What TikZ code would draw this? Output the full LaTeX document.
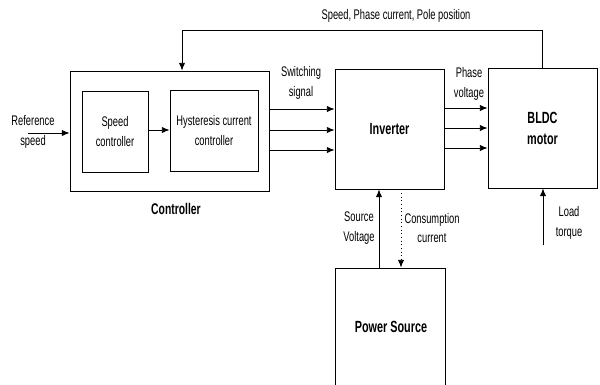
\documentclass[tikz,border=0pt]{standalone}
\usepackage{fontspec}
\setmainfont{Liberation Sans}[FakeStretch=0.67]
\usetikzlibrary{arrows.meta,positioning,calc}

\begin{document}
\begin{tikzpicture}[x=0.025cm, y=-0.025cm,
  blk/.style={rectangle, draw, line width=0.6pt, minimum width=#1, inner sep=0pt, align=center},
  lbl/.style={align=center, font=\fontsize{9.9}{14}\selectfont},
  arr/.style={-{Latex[length=5.5pt,width=4.5pt]}, line width=0.6pt}
]
  \useasboundingbox (0,0) rectangle (600,384);
  \clip (0,0) rectangle (600,384);

  % Controller
  \node[blk=4.975cm, minimum height=3cm] (ctrl) at (169.5,131) {};
  \node[blk=1.65cm, minimum height=2.025cm, lbl] (spd) at (115,131.5) {Speed\\controller};
  \node[blk=2.2cm, minimum height=2.025cm, lbl] (hys) at (214,130.5) {Hysteresis current\\controller};
  \node[font=\fontsize{11}{12}\selectfont\bfseries] (ctrltxt) at (176,209) {Controller};

  % Inverter, motor, source
  \node[blk=2.725cm, minimum height=3cm, font=\fontsize{11.5}{14}\selectfont\bfseries] (inv) at (389.5,129) {Inverter};
  \node[blk=2.725cm, minimum height=3cm, font=\fontsize{11.5}{15}\selectfont\bfseries] (motor) at (542.5,128) {BLDC\\motor};
  \node[blk=2.75cm, minimum height=3cm] (psrc) at (390,328) {};
  \node[font=\fontsize{11.5}{14}\selectfont\bfseries] (psrctxt) at (391,327) {Power Source};

  % Reference input
  \coordinate (ref) at (28,133);
  \node[lbl] (reftxt) at (33,132) {Reference\\speed};
  \draw[arr] (ref) -- (ref -| ctrl.west);
  \draw[arr] (spd.east |- 0,130) -- (hys.west |- 0,130);

  % Switching signals
  \node[lbl] (swtxt) at (301,83) {Switching\\signal};
  \foreach \yy in {109,130,150}
    \draw[arr] (ctrl.east |- 0,\yy) -- (inv.west |- 0,\yy);

  % Phase voltages
  \node[lbl] (pvtxt) at (469,84) {Phase\\voltage};
  \foreach \yy in {108,128,148}
    \draw[arr] (inv.east |- 0,\yy) -- (motor.west |- 0,\yy);

  % Feedback
  \coordinate (fb) at (182,30);
  \node[lbl] (fbtxt) at (396,16) {Speed, Phase current, Pole position};
  \draw[arr] (motor.north) |- (fb) -- (fb |- ctrl.north);

  % Source links
  \draw[arr] (psrc.north -| 379,0) -- (inv.south -| 379,0);
  \draw[arr, dotted] (inv.south -| 401,0) -- (psrc.north -| 401,0);
  \node[lbl] (svtxt) at (359,228) {Source\\Voltage};
  \node[lbl] (cctxt) at (432,228) {Consumption\\current};

  % Load torque
  \coordinate (load) at (543,245);
  \draw[arr] (load) -- (load |- motor.south);
  \node[lbl] (ldtxt) at (569,223) {Load\\torque};
\end{tikzpicture}
\end{document}
